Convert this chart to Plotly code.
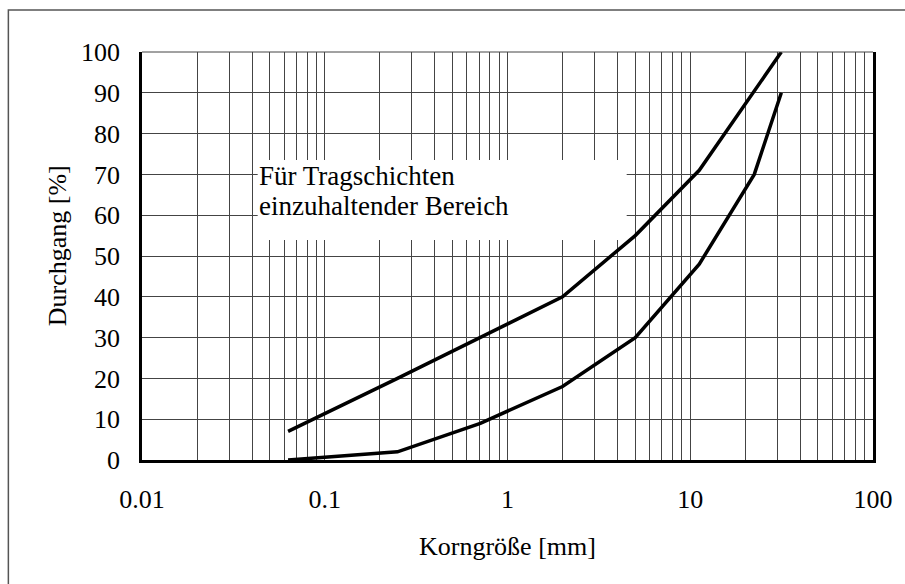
import numpy as np
import plotly.graph_objects as go

# Data
upper_x = [0.063, 0.25, 2, 5, 11.2, 31.5]
upper_y = [7, 20, 40, 55, 71, 100]
lower_x = [0.063, 0.25, 0.71, 2, 5, 11.2, 22.4, 31.5]
lower_y = [0, 2, 9, 18, 30, 48, 70, 90]

decades = [0.01, 0.1, 1, 10, 100]
decade_labels = ["0.01", "0.1", "1", "10", "100"]
y_ticks = [0, 10, 20, 30, 40, 50, 60, 70, 80, 90, 100]

x_title = "Korngröße [mm]"
y_title = "Durchgang [%]"
note_lines = ["Für Tragschichten", "einzuhaltender Bereich"]

# grid positions (1..9 times each decade)
tickvals = []
ticktext = []
for i, d in enumerate(decades[:-1]):
    for k in range(1, 10):
        tickvals.append(d * k)
        ticktext.append(decade_labels[i] if k == 1 else "")
tickvals.append(decades[-1])
ticktext.append(decade_labels[-1])

FONT = "Liberation Serif, Times New Roman, Times, serif"
FS = 26

fig = go.Figure()
fig.add_trace(go.Scatter(x=upper_x, y=upper_y, mode="lines",
                         line=dict(color="black", width=3.5), showlegend=False))
fig.add_trace(go.Scatter(x=lower_x, y=lower_y, mode="lines",
                         line=dict(color="black", width=3.5), showlegend=False))

L, R, T, B = 142, 30, 52, 124
W, H = 905, 584
pw, ph = W - L - R, H - T - B

def px(x):
    return (x - L) / pw

def py(y):
    return (H - B - y) / ph

annotations = [
    dict(text=note_lines[0], xref="paper", yref="paper", x=px(257), y=py(176),
         xanchor="left", yanchor="middle", align="left", showarrow=False,
         font=dict(family=FONT, size=27, color="black")),
    dict(text=note_lines[1], xref="paper", yref="paper", x=px(257), y=py(206),
         xanchor="left", yanchor="middle", align="left", showarrow=False,
         font=dict(family=FONT, size=27, color="black")),
    dict(text=x_title, xref="paper", yref="paper", x=px(508), y=py(546),
         xanchor="center", yanchor="middle", showarrow=False,
         font=dict(family=FONT, size=FS, color="black")),
    dict(text=y_title, xref="paper", yref="paper", x=px(57), y=py(246),
         xanchor="center", yanchor="middle", showarrow=False, textangle=-90,
         font=dict(family=FONT, size=FS, color="black")),
]

fig.update_layout(
    width=W, height=H,
    margin=dict(l=L, r=R, t=T, b=B),
    paper_bgcolor="white", plot_bgcolor="white",
    font=dict(family=FONT, size=FS, color="black"),
    xaxis=dict(type="log", range=[-2, 2], tickvals=tickvals, ticktext=ticktext,
               showgrid=True, gridcolor="#444", gridwidth=1,
               showline=True, linecolor="black", linewidth=2.5,
               ticks="", ticklabelstandoff=14, zeroline=False,
               tickfont=dict(family=FONT, size=FS)),
    yaxis=dict(range=[0, 100], tickvals=y_ticks,
               showgrid=True, gridcolor="#444", gridwidth=1,
               showline=True, linecolor="black", linewidth=2.5, mirror=True,
               ticks="", ticklabelstandoff=14, zeroline=False,
               tickfont=dict(family=FONT, size=FS)),
    shapes=[
        dict(type="rect", xref="paper", yref="paper",
             x0=px(258), x1=px(628), y0=py(240), y1=py(160),
             fillcolor="white", line=dict(width=0), layer="above"),
        dict(type="rect", xref="paper", yref="paper",
             x0=px(8), x1=px(915), y0=py(600), y1=py(10),
             fillcolor="rgba(0,0,0,0)", line=dict(color="#555", width=1.5), layer="below"),
        dict(type="line", xref="paper", yref="paper",
             x0=0, x1=1, y0=1, y1=1, line=dict(color="#444", width=1), layer="above"),
    ],
    annotations=annotations,
)

fig.write_html("out.html", config={"displayModeBar": False},
               post_script="document.body.style.margin='0';document.body.style.overflow='hidden';")
